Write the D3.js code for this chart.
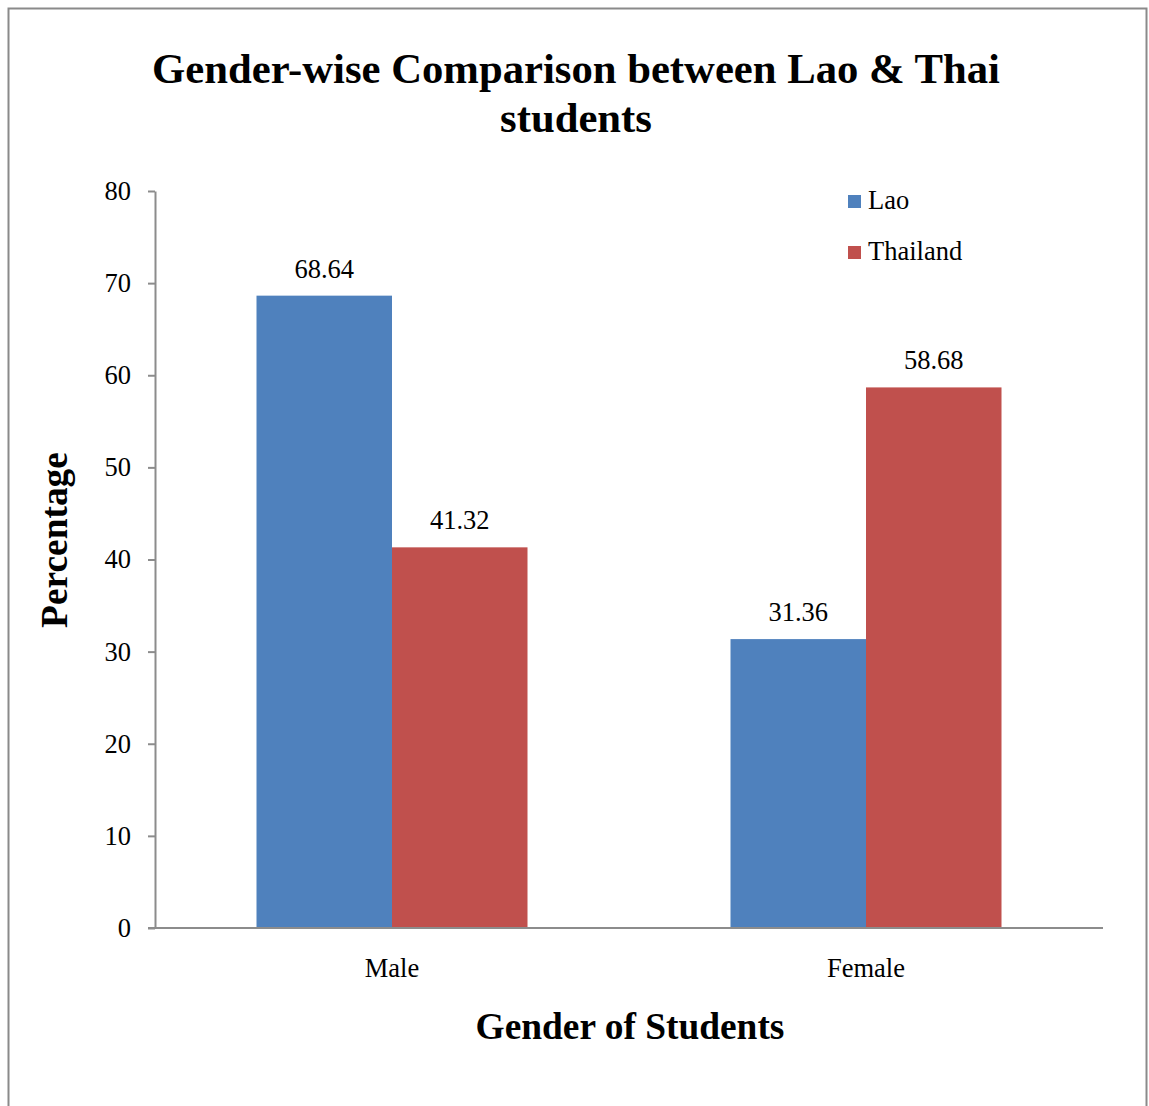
<!DOCTYPE html>
<html>
<head>
<meta charset="utf-8">
<script src="https://cdn.jsdelivr.net/npm/d3@7"></script>
<style>
  html, body { margin: 0; padding: 0; background: #fff; }
  svg { display: block; font-family: "Liberation Serif", "Times New Roman", serif; }
</style>
</head>
<body>
<svg id="chart" width="1149" height="1106"></svg>
<script>
// Data
const categories = ["Male", "Female"];
const seriesNames = ["Lao", "Thailand"];
const laoValues = [68.64, 31.36];
const thaiValues = [41.32, 58.68];
const yTicks = [0, 10, 20, 30, 40, 50, 60, 70, 80];
const colors = ["#4F81BD", "#C0504D"];

const svg = d3.select("#chart");

// Outer frame
svg.append("rect")
  .attr("x", 8.5).attr("y", 8.5)
  .attr("width", 1138).attr("height", 1110)
  .attr("fill", "#fff").attr("stroke", "#8a8a8a").attr("stroke-width", 2);

const plot = { left: 155, right: 1103, top: 191, bottom: 928 };

const x0 = d3.scaleBand().domain(categories).range([plot.left, plot.right]).paddingInner(0).paddingOuter(0);
const groupWidth = 271;
const x1 = d3.scaleBand().domain(seriesNames).range([0, groupWidth]);
const y = d3.scaleLinear().domain([0, 80]).range([plot.bottom, plot.top]);

const rows = categories.map((c, i) => ({ category: c, values: [laoValues[i], thaiValues[i]] }));

// Bars
const groups = svg.append("g").selectAll("g").data(rows).join("g")
  .attr("transform", d => `translate(${x0(d.category) + (x0.bandwidth() - groupWidth) / 2},0)`);

groups.selectAll("rect").data(d => d.values.map((v, j) => ({ name: seriesNames[j], value: v, j })))
  .join("rect")
  .attr("x", d => x1(d.name))
  .attr("y", d => y(d.value))
  .attr("width", x1.bandwidth())
  .attr("height", d => y(0) - y(d.value))
  .attr("fill", d => colors[d.j]);

// Value labels
groups.selectAll("text").data(d => d.values.map((v, j) => ({ name: seriesNames[j], value: v })))
  .join("text")
  .attr("x", d => x1(d.name) + x1.bandwidth() / 2)
  .attr("y", d => y(d.value) - 18)
  .attr("text-anchor", "middle")
  .attr("font-size", 26.5)
  .attr("fill", "#000")
  .text(d => d.value.toFixed(2));

// Y axis
const yAxis = d3.axisLeft(y).tickValues(yTicks).tickSize(7).tickPadding(17).tickSizeOuter(0);
const gy = svg.append("g").attr("transform", `translate(${plot.left},0)`).call(yAxis);
gy.select(".domain").attr("stroke", "#8c8c8c").attr("stroke-width", 2);
gy.selectAll(".tick line").attr("stroke", "#8c8c8c").attr("stroke-width", 2);
gy.selectAll(".tick text").attr("font-size", 26.5).attr("font-family", "Liberation Serif").attr("fill", "#000");

// X axis baseline
svg.append("line")
  .attr("x1", plot.left - 7).attr("x2", plot.right)
  .attr("y1", y(0)).attr("y2", y(0))
  .attr("stroke", "#8c8c8c").attr("stroke-width", 2);

// Category labels
svg.append("g").selectAll("text").data(categories).join("text")
  .attr("x", d => x0(d) + x0.bandwidth() / 2)
  .attr("y", plot.bottom + 49)
  .attr("text-anchor", "middle")
  .attr("font-size", 26.5)
  .text(d => d);

// Title
const title = svg.append("text")
  .attr("text-anchor", "middle")
  .attr("font-size", 42.7)
  .attr("font-weight", "bold");
title.append("tspan").attr("x", 576).attr("y", 83).text("Gender-wise Comparison between Lao & Thai");
title.append("tspan").attr("x", 576).attr("y", 132).text("students");

// Axis titles
svg.append("text")
  .attr("x", 630).attr("y", 1039)
  .attr("text-anchor", "middle")
  .attr("font-size", 37.4).attr("font-weight", "bold")
  .text("Gender of Students");

svg.append("text")
  .attr("transform", "translate(67,540) rotate(-90)")
  .attr("text-anchor", "middle")
  .attr("font-size", 37.4).attr("font-weight", "bold")
  .text("Percentage");

// Legend
const legend = svg.append("g").selectAll("g").data(seriesNames).join("g")
  .attr("transform", (d, i) => `translate(848,${195 + i * 51})`);
legend.append("rect").attr("width", 13).attr("height", 13).attr("fill", (d, i) => colors[i]);
legend.append("text").attr("x", 20).attr("y", 14).attr("font-size", 26.5).text(d => d);
</script>
</body>
</html>
